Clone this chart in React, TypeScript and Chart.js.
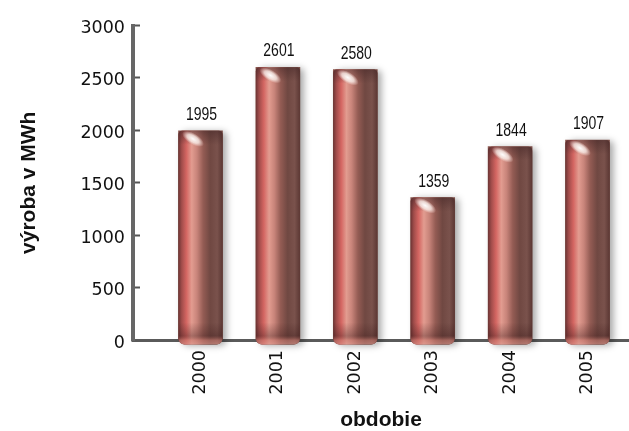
import React, { useEffect, useRef } from "react";
import { Chart, registerables } from "chart.js";

Chart.register(...registerables);

const years = [2000, 2001, 2002, 2003, 2004, 2005];
const production = [1995, 2601, 2580, 1359, 1844, 1907];
const yAxisTitle = "výroba v MWh";
const xAxisTitle = "obdobie";

const tickFont = { family: '"DejaVu Sans", "Liberation Sans", Arial, sans-serif', size: 17.5 };
const titleFont = { family: '"Liberation Sans", Arial, sans-serif', size: 21, weight: "bold" as const };

const cylinderPlugin = {
  id: "cylinder",
  afterDatasetsDraw(chart: any) {
    const meta = chart.getDatasetMeta(0);
    const ctx: CanvasRenderingContext2D = chart.ctx;
    meta.data.forEach((el: any, i: number) => {
      const { x, y, base, width } = el.getProps(["x", "y", "base", "width"], true);
      const l = x - width / 2;
      const r = x + width / 2;
      const t = y;
      const b = base + 5;
      const h = b - t;

      // shadow + base body
      ctx.save();
      ctx.shadowColor = "rgba(0,0,0,0.35)";
      ctx.shadowBlur = 7;
      ctx.shadowOffsetX = 4;
      ctx.shadowOffsetY = 1;
      ctx.fillStyle = "#6e4640";
      ctx.beginPath();
      ctx.roundRect(l, t, width, h, [4, 4, 6, 6]);
      ctx.fill();
      ctx.restore();

      // horizontal cylinder gradient
      ctx.save();
      const g = ctx.createLinearGradient(l, 0, r, 0);
      g.addColorStop(0, "#6e3434");
      g.addColorStop(0.07, "#a04c4a");
      g.addColorStop(0.18, "#d46662");
      g.addColorStop(0.3, "#e29c90");
      g.addColorStop(0.42, "#c8847a");
      g.addColorStop(0.56, "#945c54");
      g.addColorStop(0.72, "#704842");
      g.addColorStop(0.88, "#7a524c");
      g.addColorStop(1, "#5c3834");
      ctx.fillStyle = g;
      ctx.beginPath();
      ctx.roundRect(l, t, width, h, [4, 4, 6, 6]);
      ctx.fill();

      // top rim
      ctx.clip();
      const tg = ctx.createLinearGradient(0, t, 0, t + 14);
      tg.addColorStop(0, "rgba(70,40,40,0.55)");
      tg.addColorStop(1, "rgba(70,40,40,0)");
      ctx.fillStyle = tg;
      ctx.fillRect(l, t, width, 14);

      // white highlight at top-left
      ctx.save();
      ctx.translate(l + width * 0.33, t + 8);
      ctx.rotate(0.55);
      ctx.scale(1, 0.45);
      const rg = ctx.createRadialGradient(0, 0, 0, 0, 0, width * 0.28);
      rg.addColorStop(0, "rgba(255,255,255,0.98)");
      rg.addColorStop(0.55, "rgba(255,245,240,0.75)");
      rg.addColorStop(1, "rgba(255,230,225,0)");
      ctx.fillStyle = rg;
      ctx.beginPath();
      ctx.arc(0, 0, width * 0.28, 0, Math.PI * 2);
      ctx.fill();
      ctx.restore();

      // bottom darker cap and light rim
      const bg = ctx.createLinearGradient(0, b - 22, 0, b);
      bg.addColorStop(0, "rgba(60,25,25,0)");
      bg.addColorStop(0.6, "rgba(60,25,25,0.35)");
      bg.addColorStop(0.8, "rgba(200,120,110,0.55)");
      bg.addColorStop(1, "rgba(220,150,140,0.6)");
      ctx.fillStyle = bg;
      ctx.fillRect(l, b - 22, width, 22);
      ctx.restore();

      // value label (condensed)
      ctx.save();
      ctx.translate(x + 1, t - 11);
      ctx.scale(0.8, 1);
      ctx.font = '17.5px "Liberation Sans", Arial, sans-serif';
      ctx.textAlign = "center";
      ctx.textBaseline = "alphabetic";
      ctx.fillStyle = "#111";
      ctx.fillText(String(production[i]), 0, 0);
      ctx.restore();
    });
  },
};

export default function App() {
  const ref = useRef<HTMLCanvasElement | null>(null);
  useEffect(() => {
    if (!ref.current) return;
    const chart = new Chart(ref.current, {
      type: "bar",
      data: {
        datasets: [
          {
            data: years.map((yr, i) => ({ x: yr, y: production[i] })),
            backgroundColor: "#8e5a52",
            borderWidth: 0,
            barThickness: 44,
          },
        ],
      },
      options: {
        animation: false,
        responsive: false,
        events: [],
        layout: { padding: { top: 23, left: 0, right: 0, bottom: 0 } },
        plugins: { legend: { display: false }, tooltip: { enabled: false } },
        scales: {
          x: {
            type: "linear",
            offset: false,
            min: 1999.128,
            max: 2005.536,
            afterBuildTicks: (s: any) => {
              s.ticks = years.map((v) => ({ value: v }));
            },
            afterFit: (s: any) => {
              s.height = 91;
            },
            ticks: {
              callback: (v: any) => String(v),
              minRotation: 90,
              maxRotation: 90,
              autoSkip: false,
              font: tickFont,
              color: "#111",
              padding: 10,
            },
            grid: { display: false, drawTicks: false, offset: false },
            border: { display: true, color: "#5a5a5a", width: 3 },
            title: {
              display: true,
              text: xAxisTitle,
              font: titleFont,
              color: "#111",
              padding: { top: 0, bottom: -2 },
            },
          },
          y: {
            min: 0,
            max: 3000,
            afterFit: (s: any) => {
              s.width = 133;
            },
            ticks: {
              stepSize: 500,
              callback: (v: any) => String(v),
              font: tickFont,
              color: "#111",
              padding: 15,
              labelOffset: 3,
            },
            grid: {
              drawOnChartArea: false,
              drawTicks: true,
              tickLength: -7,
              tickColor: "#555",
              tickWidth: 2,
            },
            border: { display: true, color: "#666", width: 4 },
            title: {
              display: true,
              text: yAxisTitle,
              font: titleFont,
              color: "#111",
              padding: { top: 17, bottom: 0 },
            },
          },
        },
      },
      plugins: [cylinderPlugin],
    } as any);
    return () => chart.destroy();
  }, []);
  return (
    <div style={{ position: "absolute", left: 0, top: 0, width: 629, height: 431, background: "#fff" }}>
      <canvas ref={ref} width={629} height={431} style={{ display: "block" }} />
    </div>
  );
}
